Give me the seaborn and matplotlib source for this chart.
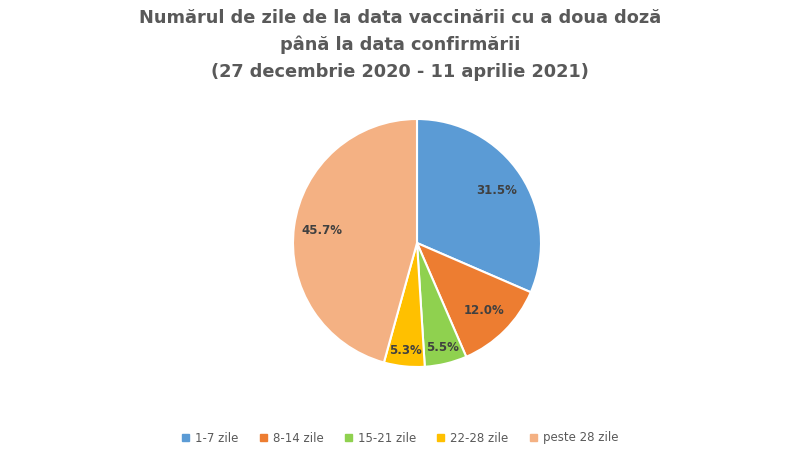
import matplotlib
matplotlib.use("Agg")
import matplotlib.pyplot as plt
import seaborn as sns
from matplotlib.patches import Patch

categories = ["1-7 zile", "8-14 zile", "15-21 zile", "22-28 zile", "peste 28 zile"]
values = [31.5, 12.0, 5.5, 5.3, 45.7]
colors = ["#5B9BD5", "#ED7D31", "#8FD14F", "#FFC000", "#F4B183"]
title_lines = [
    "Numărul de zile de la data vaccinării cu a doua doză",
    "până la data confirmării",
    "(27 decembrie 2020 - 11 aprilie 2021)",
]

sns.set_theme(style="white")
plt.rcParams["font.family"] = ["DejaVu Sans"]

fig = plt.figure(figsize=(8, 4.5), dpi=100)
fig.patch.set_facecolor("white")

# pie centre ~ (417, 243) px, radius ~124 px
r_px = 124
ax = fig.add_axes([(417 - r_px) / 800, 1 - (243 + r_px) / 450, 2 * r_px / 800, 2 * r_px / 450])
wedges, texts, autotexts = ax.pie(
    values,
    colors=colors,
    startangle=90,
    counterclock=False,
    autopct="%.1f%%",
    pctdistance=0.77,
    wedgeprops=dict(edgecolor="white", linewidth=1.5),
    textprops=dict(fontsize=8.5, fontweight="bold", color="#404040"),
)
# small slices: labels pushed further out (like Excel's best fit)
for v, t in zip(values, autotexts):
    if v < 10:
        x, y = t.get_position()
        t.set_position((x * 0.87 / 0.77, y * 0.87 / 0.77))
ax.set_xlim(-1, 1)
ax.set_ylim(-1, 1)
ax.set_aspect("equal")
ax.axis("off")

for i, line in enumerate(title_lines):
    fig.text(0.5, 1 - (18 + i * 27) / 450, line, ha="center", va="center",
             fontsize=12.8, fontweight="bold", color="#595959")

handles = [Patch(facecolor=c, edgecolor=c) for c in colors]
fig.legend(handles, categories, loc="center", bbox_to_anchor=(0.5, 1 - 438 / 450),
           ncol=5, frameon=False, fontsize=8.5, handlelength=0.6, handleheight=0.6,
           columnspacing=1.8, handletextpad=0.5, labelcolor="#595959")

fig.savefig("out.png", dpi=100, facecolor="white")
